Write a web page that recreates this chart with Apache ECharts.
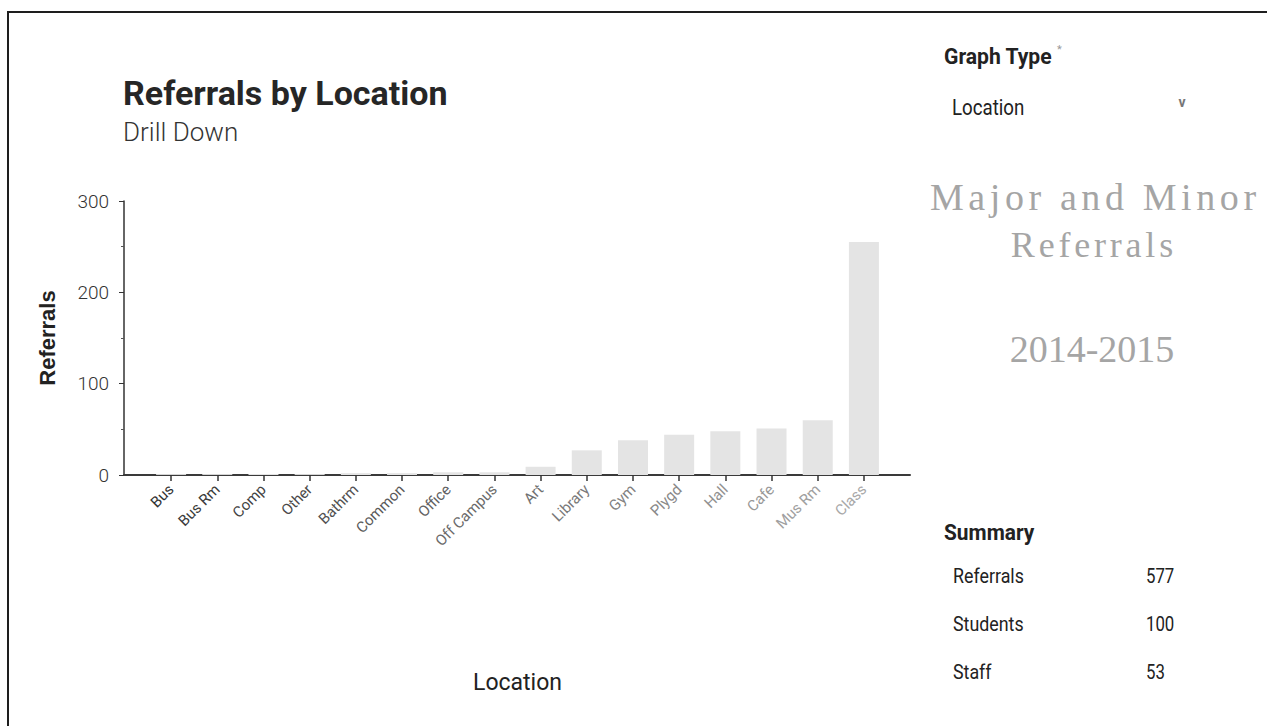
<!DOCTYPE html>
<html>
<head>
<meta charset="utf-8">
<title>Referrals by Location</title>
<script src="https://cdn.jsdelivr.net/npm/echarts@6/dist/echarts.min.js"></script>
<style>
  html, body { margin: 0; padding: 0; background: #fff; overflow: hidden; }
  #frame { position: absolute; left: 7px; top: 11px; width: 1400px; height: 800px;
           border-left: 2px solid #1e1e1e; border-top: 2px solid #1e1e1e; }
  #chart { position: absolute; left: 0; top: 0; width: 1267px; height: 726px; }
  .headline { position: absolute; width: 340px; height: 44px; line-height: 44px;
              text-align: center; white-space: nowrap; color: #a5a5a5;
              font-family: 'Liberation Serif', 'DejaVu Serif', serif; }
</style>
</head>
<body>
<div id="frame"></div>
<div id="chart"></div>
<div id="headlines"></div>
<script>
// Referral counts per location, sorted ascending
const locations = ['Bus', 'Bus Rm', 'Comp', 'Other', 'Bathrm', 'Common', 'Office', 'Off Campus',
                   'Art', 'Library', 'Gym', 'Plygd', 'Hall', 'Cafe', 'Mus Rm', 'Class'];
const referrals = [1, 1, 1, 1, 2, 2, 3, 3, 9, 27, 38, 44, 48, 51, 60, 255];
const yTicks = [0, 100, 200, 300];

// Side panel content
const graphTypeValue = 'Location';
const periodLines = ['Major and Minor', 'Referrals', '2014-2015'];
const summaryLabels = ['Referrals', 'Students', 'Staff'];
const summaryValues = [577, 100, 53];

const SANS = "Roboto, 'Liberation Sans', sans-serif";

// Letter-spaced serif headline of the side panel
const headlineStyle = [
  { y: 197, size: 38, spacing: 4.6, cx: 1093 },
  { y: 245, size: 36, spacing: 3.8, cx: 1092 },
  { y: 349, size: 38, spacing: 0,   cx: 1092 }
];
const headlineBox = document.getElementById('headlines');
periodLines.forEach((line, i) => {
  const s = headlineStyle[i];
  const div = document.createElement('div');
  div.className = 'headline';
  div.textContent = line;
  div.style.top = (s.y - 22) + 'px';
  div.style.left = (s.cx - 170 + s.spacing / 2) + 'px';
  div.style.fontSize = s.size + 'px';
  div.style.letterSpacing = s.spacing + 'px';
  headlineBox.appendChild(div);
});

const chart = echarts.init(document.getElementById('chart'), null, { renderer: 'svg' });

const labelColor = (value, index) => {
  // labels fade towards the right end of the axis
  const t = index / (locations.length - 1);
  const c = Math.round(0x33 + t * (0xa8 - 0x33));
  const h = c.toString(16).padStart(2, '0');
  return '#' + h + h + h;
};

// condensed text: a normal face squeezed horizontally
const narrowText = (x, y, text, font, fill, sx) => ({
  type: 'text', x: x, y: y, scaleX: sx,
  style: { text: text, font: font, fill: fill, textVerticalAlign: 'middle' }
});

const panelTexts = [
  { type: 'text', x: 123, y: 93,
    style: { text: 'Referrals by Location', font: 'bold 34px ' + SANS, fill: '#262626',
             textVerticalAlign: 'middle' } },
  { type: 'text', x: 123, y: 132,
    style: { text: 'Drill Down', font: '300 26px ' + SANS, fill: '#333',
             textVerticalAlign: 'middle' } },
  narrowText(944, 56, 'Graph Type', 'bold 22px ' + SANS, '#222', 0.96),
  narrowText(1057, 49, '*', '11px ' + SANS, '#999', 1),
  narrowText(952, 107, graphTypeValue, '22px ' + SANS, '#222', 0.85),
  { type: 'text', x: 1182, y: 102,
    style: { text: 'v', font: 'bold 14px ' + SANS, fill: '#777',
             textAlign: 'center', textVerticalAlign: 'middle' } },
  narrowText(944, 532, 'Summary', 'bold 22px ' + SANS, '#222', 0.95)
];

summaryLabels.forEach((label, i) => {
  const y = 576 + i * 48;
  panelTexts.push(narrowText(953, y, label, '21px ' + SANS, '#222', 0.85));
  panelTexts.push(narrowText(1146, y, String(summaryValues[i]), '21px ' + SANS, '#222', 0.8));
});

const option = {
  animation: false,
  backgroundColor: 'transparent',
  grid: [
    { left: 148, right: 380, top: 201, bottom: 251 },
    // wider grid that only carries the baseline running past the y axis
    { left: 124, right: 357, top: 201, bottom: 251 }
  ],
  xAxis: [
    {
      type: 'category',
      gridIndex: 0,
      data: locations,
      name: 'Location',
      nameLocation: 'middle',
      nameGap: 196,
      nameTextStyle: { fontFamily: SANS, fontSize: 23, color: '#222' },
      axisLine: { show: false },
      axisTick: { show: true, alignWithLabel: true, length: 6,
                  lineStyle: { color: '#333', width: 1.5 } },
      axisLabel: { rotate: 45, margin: 12, fontFamily: SANS, fontSize: 15, color: labelColor },
      splitLine: { show: false }
    },
    {
      type: 'value',
      gridIndex: 1,
      min: 0, max: 1,
      axisLine: { show: true, onZero: false, lineStyle: { color: '#3a3a3a', width: 2 } },
      axisTick: { show: false },
      axisLabel: { show: false },
      splitLine: { show: false }
    }
  ],
  yAxis: [
    {
      type: 'value',
      gridIndex: 0,
      min: yTicks[0],
      max: yTicks[yTicks.length - 1],
      interval: yTicks[1] - yTicks[0],
      offset: 24,
      name: 'Referrals',
      nameLocation: 'middle',
      nameGap: 66,
      nameRotate: 90,
      nameTextStyle: { fontFamily: "'Liberation Sans', Arial, sans-serif", fontWeight: 'bold',
                       fontSize: 22, color: '#222' },
      axisLine: { show: true, lineStyle: { color: '#333', width: 1.5 } },
      axisTick: { show: true, length: 5, lineStyle: { color: '#333' } },
      minorTick: { show: true, splitNumber: 2, length: 3, lineStyle: { color: '#555' } },
      axisLabel: { margin: 15, fontFamily: SANS, fontSize: 19, fontWeight: 300, color: '#333' },
      splitLine: { show: false }
    },
    { type: 'value', gridIndex: 1, show: false }
  ],
  series: [
    {
      type: 'bar',
      xAxisIndex: 0,
      yAxisIndex: 0,
      data: referrals,
      barWidth: 30,
      itemStyle: { color: '#e4e4e4' },
      emphasis: { disabled: true }
    }
  ],
  graphic: panelTexts
};

chart.setOption(option);
</script>
</body>
</html>
